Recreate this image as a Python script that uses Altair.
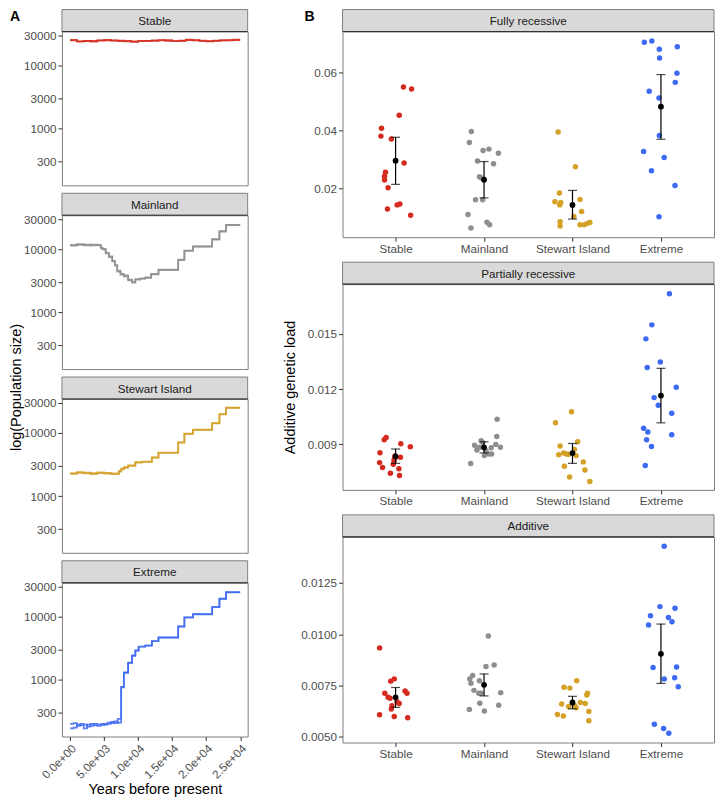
import altair as alt
import pandas as pd

FONT = "Liberation Sans"
GROUPS = ["Stable", "Mainland", "Stewart Island", "Extreme"]
COLORS = ["#D52B1E", "#8E8E8E", "#D4A026", "#3D6AF2"]

# ---------------- Panel A: population size trajectories ----------------
STABLE_YEARS = [0, 1000, 2000, 3000, 4000, 5000, 6000, 7000, 8000, 9000, 10000, 11000, 12000,
                13000, 14000, 15000, 16000, 17000, 18000, 19000, 20000, 21000, 22000, 23000, 24000, 25000]
STABLE_A = [25500, 24200, 24600, 23900, 24800, 25400, 24700, 24300, 24500, 23700, 24200, 24600, 24900,
            25300, 24500, 24400, 24800, 25600, 24900, 24400, 24300, 24700, 25000, 25300, 25600, 25600]
STABLE_B = [25000, 23800, 24300, 24500, 25100, 25000, 24900, 24700, 24100, 24000, 24600, 24400, 24600,
            25000, 25200, 24300, 24600, 25200, 25300, 24700, 24100, 24500, 24900, 25000, 25200, 25200]

MAIN_YEARS = [0, 1000, 2000, 3000, 4000, 4500, 4750, 5230, 5720, 6200, 6590, 6930, 7410, 7900, 8530,
              9110, 9590, 10320, 11050, 11920, 12990, 15890, 16800, 18070, 20880, 21950, 22920, 25000]
MAIN_A = [11700, 12000, 11500, 11800, 11600, 10700, 10100, 8780, 7700, 6540, 5610, 4590, 4080, 3840, 3300,
          3040, 3370, 3450, 3580, 4080, 4750, 6850, 9540, 11100, 14400, 19300, 24300, 24300]
MAIN_B = [11400, 11700, 11800, 11500, 11700, 10500, 9900, 8600, 7500, 6400, 5500, 4400, 3950, 3700, 3200,
          2950, 3300, 3400, 3520, 4000, 4650, 6700, 9400, 11000, 14200, 19000, 24000, 24000]

STEW_YEARS = [0, 1000, 2000, 3000, 4000, 5000, 6000, 7170, 7510, 7900, 8530, 9590, 10560, 12020, 12990,
              15890, 16800, 18070, 20880, 21950, 22920, 25000]
STEW_A = [2300, 2400, 2350, 2300, 2380, 2320, 2290, 2500, 2710, 2880, 3050, 3440, 3520, 4110, 4900,
          7090, 9760, 11260, 14280, 19900, 25200, 25200]
STEW_B = [2250, 2330, 2280, 2230, 2300, 2260, 2220, 2430, 2650, 2800, 3000, 3380, 3460, 4050, 4820,
          7000, 9650, 11150, 14150, 19700, 24900, 24900]

EXT_YEARS = [0, 500, 1000, 1500, 2000, 2500, 3000, 3500, 4000, 4500, 5000, 5500, 6000, 6500, 7000, 7510,
             7900, 8530, 9110, 9590, 10080, 11050, 12020, 12990, 15890, 16800, 18070, 20880, 21950, 22920, 25000]
EXT_A = [200, 205, 185, 200, 195, 180, 200, 190, 195, 200, 195, 210, 215, 205, 240, 770,
         1310, 1870, 2430, 2920, 3370, 3490, 4120, 4690, 7020, 9760, 10960, 14250, 19300, 24500, 24500]
EXT_B = [170, 175, 195, 190, 170, 195, 185, 200, 185, 190, 200, 200, 205, 220, 210, 760,
         1290, 1850, 2400, 2900, 3340, 3470, 4080, 4650, 6980, 9700, 10900, 14200, 19200, 24300, 24300]

X_TICKS_A = [0, 5000, 10000, 15000, 20000, 25000]
Y_TICKS_A = [300, 1000, 3000, 10000, 30000]

# ---------------- Panel B: additive genetic load ----------------
FR_VALS = {
    "Stable": [0.0551, 0.0544, 0.0453, 0.0408, 0.0381, 0.0371, 0.0288, 0.0256, 0.0242, 0.0229, 0.0202, 0.0129, 0.0143, 0.0146, 0.0107],
    "Mainland": [0.0397, 0.0359, 0.0331, 0.0336, 0.0322, 0.0295, 0.0285, 0.0237, 0.0161, 0.0161, 0.0110, 0.0083, 0.0074, 0.0063, 0.0240],
    "Stewart Island": [0.0395, 0.0275, 0.0184, 0.0154, 0.0151, 0.0143, 0.0162, 0.0120, 0.0085, 0.0070, 0.0103, 0.0074, 0.0074, 0.0079, 0.0082],
    "Extreme": [0.0706, 0.0710, 0.0682, 0.0690, 0.0651, 0.0599, 0.0567, 0.0536, 0.0513, 0.0383, 0.0328, 0.0307, 0.0261, 0.0210, 0.0102],
}
FR_JIT = {
    "Stable": [.089, .181, .041, -.159, -.166, -.048, .096, -.114, -.125, -.125, -.085, -.092, .018, .048, .170],
    "Mainland": [-.144, -.166, -.011, .055, .162, -.074, .107, -.033, -.096, -.015, -.181, .033, .063, -.148, -.052],
    "Stewart Island": [-.162, .033, -.148, -.199, -.133, -.144, .085, .103, -.140, -.140, .015, .085, .133, .170, .196],
    "Extreme": [-.188, -.103, -.018, .185, -.015, .181, .162, -.133, -.022, -.018, -.196, .037, -.107, .159, -.022],
}
FR_MEAN = [0.0296, 0.0230, 0.0143, 0.0483]
FR_LO = [0.0214, 0.0167, 0.0094, 0.0370]
FR_HI = [0.0377, 0.0293, 0.0193, 0.0594]

PR_VALS = {
    "Stable": [0.00925, 0.00938, 0.00904, 0.00887, 0.00855, 0.00830, 0.00837, 0.00814, 0.00801, 0.00792, 0.00774, 0.00768, 0.00743, 0.00731, 0.00823],
    "Mainland": [0.01037, 0.00943, 0.00920, 0.00895, 0.00900, 0.00884, 0.00869, 0.00882, 0.00866, 0.00848, 0.00848, 0.00839, 0.00796, 0.00911, 0.00884],
    "Stewart Island": [0.01077, 0.01017, 0.00914, 0.00891, 0.00844, 0.00853, 0.00846, 0.00873, 0.00781, 0.00805, 0.00761, 0.00723, 0.00698, 0.00839, 0.00848],
    "Extreme": [0.01718, 0.01549, 0.01473, 0.01318, 0.01347, 0.01210, 0.01154, 0.01113, 0.01069, 0.00988, 0.00967, 0.00952, 0.00925, 0.00889, 0.00785],
}
PR_JIT = {
    "Stable": [-.129, -.107, .059, .166, -.177, .055, -.007, -.018, -.181, -.026, -.148, .037, -.059, .044, -.011],
    "Mainland": [.148, .144, -.033, -.107, .133, .185, -.081, .081, .022, .052, .085, .004, -.151, -.015, -.052],
    "Stewart Island": [-.011, -.192, .059, -.140, -.155, -.100, -.044, .022, -.092, .122, .140, -.033, .196, .041, -.070],
    "Extreme": [.096, -.103, -.170, -.155, -.007, .173, -.077, -.030, .122, -.196, -.148, .122, -.162, -.107, -.177],
}
PR_MEAN = [0.00835, 0.00884, 0.00853, 0.01165]
PR_LO = [0.00797, 0.00853, 0.00797, 0.01017]
PR_HI = [0.00875, 0.00914, 0.00905, 0.01313]

AD_VALS = {
    "Stable": [0.00934, 0.00783, 0.00772, 0.00724, 0.00713, 0.00713, 0.00689, 0.00663, 0.00652, 0.00636, 0.00608, 0.00600, 0.00594, 0.00672, 0.00693],
    "Mainland": [0.00992, 0.00851, 0.00843, 0.00799, 0.00782, 0.00762, 0.00727, 0.00713, 0.00716, 0.00664, 0.00655, 0.00634, 0.00626, 0.00713, 0.00774],
    "Stewart Island": [0.00774, 0.00742, 0.00738, 0.00713, 0.00705, 0.00661, 0.00668, 0.00663, 0.00648, 0.00642, 0.00624, 0.00610, 0.00602, 0.00579, 0.00653],
    "Extreme": [0.01429, 0.01135, 0.01127, 0.01090, 0.01082, 0.01061, 0.01045, 0.00838, 0.00841, 0.00782, 0.00788, 0.00745, 0.00562, 0.00541, 0.00518],
}
AD_JIT = {
    "Stable": [-.181, -.015, -.055, .107, .129, -.122, -.063, .041, -.041, -.048, -.181, -.015, .137, .015, -.085],
    "Mainland": [.048, .114, .022, -.129, -.162, -.148, -.114, -.059, .188, -.048, .166, -.166, .004, -.033, -.052],
    "Stewart Island": [.048, -.096, -.030, .170, .162, -.122, .089, .144, -.044, .041, .185, -.170, -.103, .185, .022],
    "Extreme": [.037, -.011, .159, -.118, .085, .125, -.140, -.089, .177, .037, .155, .196, -.074, .030, .089],
}
AD_MEAN = [0.00693, 0.00754, 0.00668, 0.00905]
AD_LO = [0.00644, 0.00700, 0.00637, 0.00761]
AD_HI = [0.00741, 0.00807, 0.00698, 0.01050]

STRIP_H = 22
LW, LH = 186, 154
RW, RH = 372, 206


def strip_layers(label, w, tag=None, tag_x=0):
    df = pd.DataFrame({"label": [label]})
    base = alt.Chart(df)
    rect = base.mark_rect(fill="#D9D9D9", stroke="#7F7F7F", strokeWidth=1).encode(
        x=alt.value(0), x2=alt.value(w), y=alt.value(-STRIP_H), y2=alt.value(0))
    bottom = base.mark_rule(color="#333333", strokeWidth=1.2).encode(
        x=alt.value(0), x2=alt.value(w), y=alt.value(0), y2=alt.value(0))
    txt = base.mark_text(font=FONT, fontSize=11.7, color="#1A1A1A", baseline="middle").encode(
        x=alt.value(w / 2), y=alt.value(-STRIP_H / 2 + 0.5), text="label:N")
    layers = [rect, bottom, txt]
    if tag:
        tdf = pd.DataFrame({"t": [tag]})
        layers.append(alt.Chart(tdf).mark_text(font=FONT, fontSize=14, fontWeight="bold", color="black",
                                               align="left", baseline="alphabetic").encode(
            x=alt.value(tag_x), y=alt.value(-STRIP_H + 11), text="t:N"))
    return layers


def left_panel(name, years, a, b, color, show_x=False, ytitle=False, tag=None):
    df = pd.DataFrame({"year": list(years) * 2, "pop": list(a) + list(b),
                       "rep": ["a"] * len(years) + ["b"] * len(years)})
    if show_x:
        xax = alt.Axis(values=X_TICKS_A, labelExpr="replace(format(datum.value, '.1e'), 'e+', 'e+0')",
                       labelAngle=315, labelAlign="right", labelBaseline="top", labelOverlap=False,
                       labelFlush=False, title="Years before present", titlePadding=2)
    else:
        xax = None
    ykw = dict(values=Y_TICKS_A, format="d")
    if ytitle:
        ykw.update(title="log(Population size)", titleX=-41, titleY=172, titleAngle=270,
                   titleBaseline="alphabetic", titleAlign="center")
    else:
        ykw.update(title="")
    line = alt.Chart(df).mark_line(interpolate="step-after", strokeWidth=1.7, opacity=0.85, color=color).encode(
        x=alt.X("year:Q", scale=alt.Scale(domain=[-1200, 26100], nice=False, zero=False), axis=xax),
        y=alt.Y("pop:Q", scale=alt.Scale(type="log", domain=[126, 34500], nice=False), axis=alt.Axis(**ykw)),
        detail="rep:N",
    )
    return alt.layer(line, *strip_layers(name, LW, tag, -52)).properties(width=LW, height=LH)


def right_panel(name, vals, jit, means, los, his, domain, ticks, fmt, ytitle=False, tag=None):
    rows = []
    for i, g in enumerate(GROUPS):
        for v, d in zip(vals[g], jit[g]):
            rows.append({"grp": g, "pos": i + 1 + d, "val": v})
    pts = pd.DataFrame(rows)
    summ = pd.DataFrame({"grp": GROUPS, "pos": [1, 2, 3, 4], "mean": means, "lo": los, "hi": his})
    xs = alt.Scale(domain=[0.4, 4.6], nice=False, zero=False)
    ys = alt.Scale(domain=domain, nice=False, zero=False)
    xax = alt.Axis(values=[1, 2, 3, 4],
                   labelExpr="['Stable','Mainland','Stewart Island','Extreme'][datum.value - 1]",
                   title="", labelPadding=2)
    ykw = dict(values=ticks, format=fmt)
    if ytitle:
        ykw.update(title="Additive genetic load", titleX=-48, titleAngle=270, titleBaseline="alphabetic")
    else:
        ykw.update(title="")
    p = alt.Chart(pts).mark_circle(size=30, opacity=1).encode(
        x=alt.X("pos:Q", scale=xs, axis=xax),
        y=alt.Y("val:Q", scale=ys, axis=alt.Axis(**ykw)),
        color=alt.Color("grp:N", scale=alt.Scale(domain=GROUPS, range=COLORS), legend=None),
    )
    sb = alt.Chart(summ)
    rule = sb.mark_rule(color="black", strokeWidth=1.2).encode(
        x=alt.X("pos:Q", scale=xs), y=alt.Y("lo:Q", scale=ys), y2="hi:Q")
    cap_lo = sb.mark_tick(color="black", orient="horizontal", size=9, thickness=1.2).encode(
        x=alt.X("pos:Q", scale=xs), y=alt.Y("lo:Q", scale=ys))
    cap_hi = sb.mark_tick(color="black", orient="horizontal", size=9, thickness=1.2).encode(
        x=alt.X("pos:Q", scale=xs), y=alt.Y("hi:Q", scale=ys))
    mean = sb.mark_circle(color="black", size=34, opacity=1).encode(
        x=alt.X("pos:Q", scale=xs), y=alt.Y("mean:Q", scale=ys))
    return alt.layer(p, rule, cap_lo, cap_hi, mean, *strip_layers(name, RW, tag, -38)).properties(
        width=RW, height=RH)


left = alt.vconcat(
    left_panel("Stable", STABLE_YEARS, STABLE_A, STABLE_B, COLORS[0], tag="A"),
    left_panel("Mainland", MAIN_YEARS, MAIN_A, MAIN_B, COLORS[1], ytitle=True),
    left_panel("Stewart Island", STEW_YEARS, STEW_A, STEW_B, COLORS[2]),
    left_panel("Extreme", EXT_YEARS, EXT_A, EXT_B, COLORS[3], show_x=True),
    spacing=8 + STRIP_H, bounds="flush",
)

right = alt.vconcat(
    right_panel("Fully recessive", FR_VALS, FR_JIT, FR_MEAN, FR_LO, FR_HI,
                [0.0031, 0.0743], [0.02, 0.04, 0.06], ".2f", tag="B"),
    right_panel("Partially recessive", PR_VALS, PR_JIT, PR_MEAN, PR_LO, PR_HI,
                [0.00653, 0.0177], [0.009, 0.012, 0.015], ".3f", ytitle=True),
    right_panel("Additive", AD_VALS, AD_JIT, AD_MEAN, AD_LO, AD_HI,
                [0.00473, 0.01475], [0.005, 0.0075, 0.01, 0.0125], ".4f"),
    spacing=25 + STRIP_H, bounds="flush",
)

chart = alt.hconcat(left, right, spacing=32).properties(padding=0).configure(
    font=FONT
).configure_axis(
    domain=False, grid=False, tickColor="#333333", tickSize=4, tickWidth=1,
    labelColor="#4D4D4D", labelFontSize=11.7, labelFont=FONT, labelPadding=2,
    titleFont=FONT, titleFontSize=14.5, titleFontWeight="normal", titleColor="black",
).configure_view(stroke="#7F7F7F", strokeWidth=1)

chart.save("out.html", embed_options={"renderer": "svg", "actions": False})
